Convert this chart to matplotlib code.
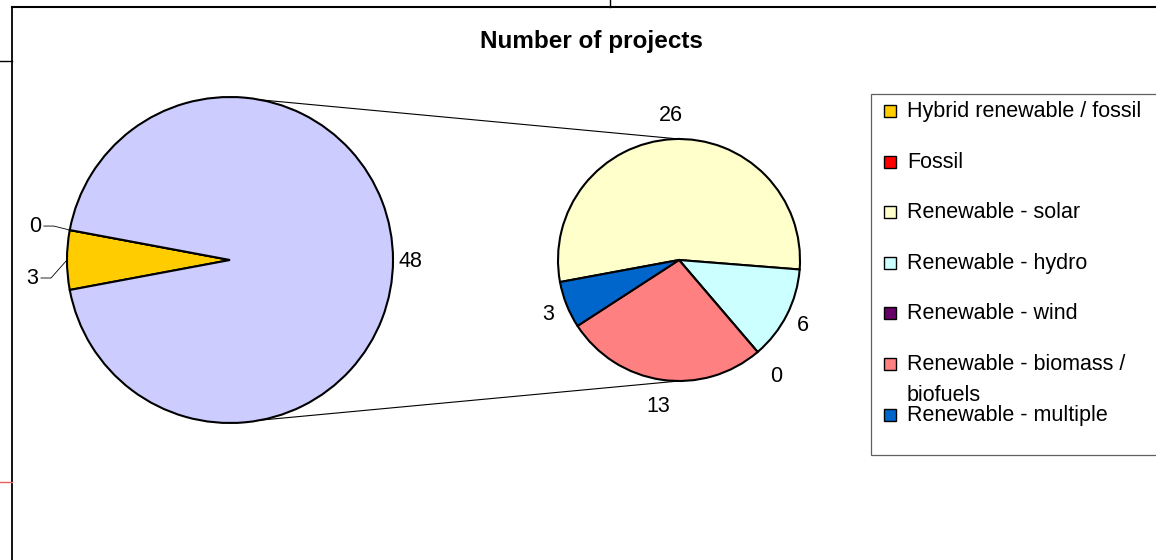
import numpy as np
import matplotlib
matplotlib.use("Agg")
import matplotlib.pyplot as plt
from matplotlib.patches import Rectangle

plt.rcParams['font.family'] = ['Liberation Sans', 'DejaVu Sans']

# ---- data ----
title = "Number of projects"
main_cats = ["Hybrid renewable / fossil", "Fossil", "Other renewable"]
main_vals = [3, 0, 48]
main_colors = ["#FFCC00", "#FF0000", "#CCCCFF"]

sub_cats = ["Renewable - solar", "Renewable - hydro", "Renewable - wind",
            "Renewable - biomass /\nbiofuels", "Renewable - multiple"]
sub_vals = [26, 6, 0, 13, 3]
sub_colors = ["#FFFFCC", "#CCFFFF", "#660066", "#FF8080", "#0066CC"]

legend_cats = main_cats[:2] + sub_cats
legend_colors = main_colors[:2] + sub_colors

# ---- figure in pixel coordinates ----
W, H = 1156, 560
fig = plt.figure(figsize=(W / 100, H / 100), dpi=100)
ax = fig.add_axes([0, 0, 1, 1])

def Y(y):
    return H - y

main_c = (230, Y(260)); main_r = 163
sub_c = (679, Y(260)); sub_r = 121
wp = dict(edgecolor="black", linewidth=1.5)

main_start = 180 + 360 * main_vals[0] / sum(main_vals) / 2
mw, _ = ax.pie(main_vals, colors=main_colors, startangle=main_start,
               counterclock=False, center=main_c, radius=main_r,
               wedgeprops=wp, normalize=True)
sw, _ = ax.pie(sub_vals, colors=sub_colors, startangle=190.5,
               counterclock=False, center=sub_c, radius=sub_r,
               wedgeprops=wp, normalize=True)

ax.set_xlim(0, W)
ax.set_ylim(0, H)
ax.set_aspect("equal")
ax.axis("off")

FS = 15.5

def mid(w):
    return np.deg2rad((w.theta1 + w.theta2) / 2)

# connector lines between pies
ax.plot([main_c[0], sub_c[0]], [main_c[1] + main_r, sub_c[1] + sub_r],
        color="black", lw=0.8, zorder=0)
ax.plot([main_c[0], sub_c[0]], [main_c[1] - main_r, sub_c[1] - sub_r],
        color="black", lw=0.8, zorder=0)

# main pie labels
a = mid(mw[2])
ax.text(main_c[0] + 1.11 * main_r * np.cos(a), main_c[1] + 1.11 * main_r * np.sin(a) - 7.5,
        str(main_vals[2]), fontsize=FS, ha="center", va="baseline")

# leader-line labels for small slices (text offsets relative to slice edge point)
leader = {0: ((-35, -16), (-16, -18), (-26, -18)),
          1: ((-35, 6), (-16, 4), (-26, 4))}
for i, (toff, knee, start) in leader.items():
    a = mid(mw[i])
    ex = main_c[0] + main_r * np.cos(a)
    ey = main_c[1] + main_r * np.sin(a)
    ax.plot([ex + start[0], ex + knee[0], ex], [ey + start[1], ey + knee[1], ey],
            color="black", lw=0.6)
    ax.text(ex + toff[0], ey + toff[1] - 7.5, str(main_vals[i]), fontsize=FS,
            ha="center", va="baseline")

# sub pie labels
sub_dist = [1.21, 1.15, 1.24, 1.21, 1.16]
for w, v, d in zip(sw, sub_vals, sub_dist):
    a = mid(w)
    ax.text(sub_c[0] + d * sub_r * np.cos(a), sub_c[1] + d * sub_r * np.sin(a) - 7.5,
            str(v), fontsize=FS, ha="center", va="baseline")

# title
ax.text(591, Y(48), title, fontsize=17.5, fontweight="bold", ha="center", va="baseline")

# legend (manual, Excel-like)
ax.add_patch(Rectangle((871, Y(455)), 400, 455 - 94, facecolor="white",
                       edgecolor="#606060", lw=0.9, zorder=1, clip_on=True))
for i, (cat, col) in enumerate(zip(legend_cats, legend_colors)):
    base = 117 + 50.6 * i
    ax.add_patch(Rectangle((884, Y(base)), 12, 12, facecolor=col,
                           edgecolor="black", lw=1.0, zorder=3))
    for j, line in enumerate(cat.split("\n")):
        ax.text(907, Y(base + 31 * j), line, fontsize=FS, ha="left",
                va="baseline", zorder=3)

# chart-area border and spreadsheet gridline remnants
ax.plot([12, 12], [Y(7), -5], color="black", lw=1.3)
ax.plot([12, W + 5], [Y(7), Y(7)], color="black", lw=1.5)
ax.plot([0, 12], [Y(61), Y(61)], color="black", lw=1.0)
ax.plot([610, 610], [Y(0) + 5, Y(7)], color="black", lw=1.0)
ax.plot([0, 12], [Y(482), Y(482)], color="#E86060", lw=1.0)

fig.savefig("out.png", dpi=100, facecolor="white")
